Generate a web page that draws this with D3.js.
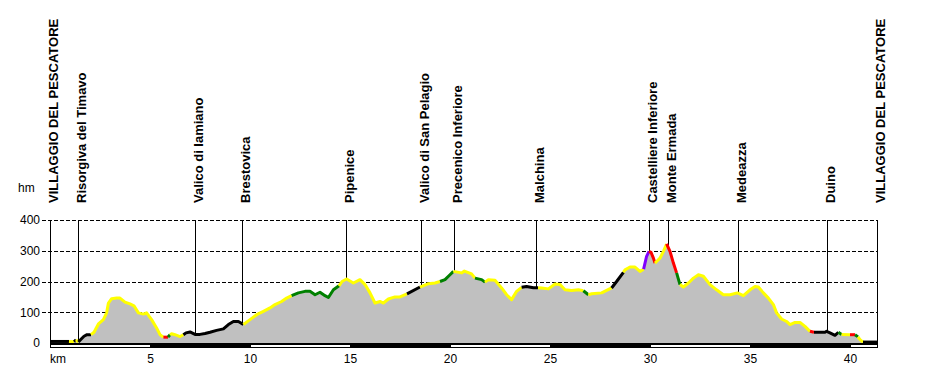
<!DOCTYPE html>
<html>
<head>
<meta charset="utf-8">
<script src="https://cdn.jsdelivr.net/npm/d3@7"></script>
<style>
  body { margin: 0; background: #fff; }
  text { font-family: Arial, "Liberation Sans", sans-serif; }
</style>
</head>
<body>
<script>
// profilo altimetrico: km, quota (m), classe di pendenza del tratto che parte dal punto
var km = [0, 0.95, 1.2, 1.3, 1.42, 1.55, 1.7, 1.85, 2.05, 2.2, 2.42, 2.67, 2.83, 2.92, 3.08, 3.33, 3.5, 3.75, 4.0, 4.2,
  4.42, 4.67, 4.83, 5.08, 5.33, 5.5, 5.67, 5.9, 6.0, 6.08, 6.25, 6.5, 6.67, 6.8, 7.0, 7.25, 7.5, 7.75, 8.0, 8.33,
  8.67, 8.92, 9.17, 9.42, 9.67, 10.0, 10.33, 10.67, 11.0, 11.25, 11.58, 11.83, 12.08, 12.42, 12.75, 13.0, 13.25, 13.5, 13.75, 13.92,
  14.17, 14.45, 14.6, 14.83, 15.17, 15.5, 15.75, 16.0, 16.25, 16.5, 16.67, 16.92, 17.25, 17.5, 17.85, 18.5, 18.92, 19.25, 19.5, 19.75,
  20.0, 20.17, 20.58, 20.72, 21.08, 21.25, 21.58, 21.75, 21.92, 22.25, 22.58, 22.83, 23.08, 23.33, 23.58, 23.83, 24.17, 24.4, 24.58, 24.92,
  25.25, 25.5, 25.75, 26.08, 26.42, 26.67, 26.92, 27.08, 27.58, 27.83, 28.08, 28.33, 28.67, 28.75, 29.0, 29.25, 29.5, 29.68, 29.83, 29.95,
  30.05, 30.17, 30.25, 30.33, 30.5, 30.67, 30.83, 31.0, 31.17, 31.33, 31.5, 31.67, 31.92, 32.17, 32.42, 32.67, 33.0, 33.33, 33.67, 34.0,
  34.37, 34.67, 35.0, 35.25, 35.42, 35.67, 35.92, 36.17, 36.33, 36.58, 36.83, 37.0, 37.25, 37.5, 37.75, 38.0, 38.2, 38.75, 38.83, 39.0,
  39.25, 39.42, 39.58, 40.0, 40.25, 40.4, 40.5, 40.65, 41.35];

var elev = [5, 5, 4, 10, 3, 12, 22, 27, 27, 35, 62, 76, 98, 130, 144, 146, 146, 133, 127, 121,
  98, 94, 98, 76, 49, 27, 19, 19, 27, 30, 27, 21, 27, 33, 36, 28, 28, 31, 35, 41,
  46, 60, 70, 70, 60, 76, 92, 103, 114, 125, 135, 146, 154, 163, 168, 168, 157, 165, 154, 148,
  173, 186, 200, 208, 195, 206, 190, 163, 130, 135, 130, 143, 150, 150, 160, 182, 193, 195, 200, 206,
  222, 233, 228, 234, 225, 211, 206, 198, 206, 204, 179, 157, 141, 168, 181, 184, 180, 180, 179, 176,
  192, 190, 173, 171, 173, 170, 157, 160, 163, 171, 179, 200, 230, 238, 247, 247, 233, 240, 282, 298,
  295, 276, 260, 265, 276, 298, 322, 298, 260, 228, 190, 182, 195, 211, 222, 217, 190, 173, 157, 157,
  163, 154, 173, 184, 182, 163, 146, 125, 98, 78, 70, 60, 67, 67, 54, 38, 35, 35, 38, 33,
  25, 35, 28, 27, 27, 20, 11, 3, 3];

var slope = ["k", "y", "k", "y", "k", "k", "k", "k", "y", "y", "y", "y", "y", "y", "y", "y", "y", "y", "y", "y",
  "y", "y", "y", "y", "y", "y", "r", "g", "y", "y", "y", "y", "k", "k", "k", "k", "k", "k", "k", "k",
  "k", "k", "k", "k", "y", "y", "y", "y", "y", "y", "y", "y", "g", "g", "g", "g", "g", "g", "g", "g",
  "g", "y", "y", "y", "y", "y", "y", "y", "y", "y", "y", "y", "y", "y", "k", "y", "y", "y", "g", "g",
  "g", "y", "y", "y", "y", "g", "g", "y", "y", "y", "y", "y", "y", "y", "k", "k", "k", "y", "y", "y",
  "y", "y", "y", "y", "y", "g", "y", "y", "y", "y", "k", "k", "y", "y", "y", "y", "y", "p", "p", "r",
  "r", "r", "y", "y", "y", "y", "r", "r", "r", "g", "y", "y", "y", "y", "y", "y", "y", "y", "y", "y",
  "y", "y", "y", "y", "y", "y", "y", "y", "y", "y", "y", "y", "y", "y", "y", "r", "k", "k", "k", "k",
  "k", "g", "y", "r", "g", "y", "y", "k"];

var slopeColor = {y: "#ffff00", k: "#000000", g: "#008000", r: "#ff0000", p: "#8000ff"};

// località
var placeNames = ["VILLAGGIO DEL PESCATORE", "Risorgiva del Timavo", "Valico di Iamiano", "Brestovica", "Pipenice",
  "Valico di San Pelagio", "Precenico Inferiore", "Malchina", "Castelliere Inferiore", "Monte Ermada",
  "Medeazza", "Duino", "VILLAGGIO DEL PESCATORE"];
var placeKm = [0, 1.4, 7.25, 9.6, 14.8, 18.57, 20.2, 24.28, 29.93, 30.88, 34.4, 38.83, 41.35];

var yTicks = [0, 100, 200, 300, 400];
var xTicks = [5, 10, 15, 20, 25, 30, 35, 40];
var barSteps = [0, 5, 10, 15, 20, 25, 30, 35, 40];

var width = 927, height = 370;

var svg = d3.select("body")
            .append("svg")
            .attr("width", width)
            .attr("height", height);

var xScale = d3.scaleLinear()
              .domain([0, 41.35])
              .range([50, 877]);

var yScale = d3.scaleLinear()
              .domain([0, 400])
              .range([343, 220]);

// griglia tratteggiata
svg.append("g")
    .selectAll("line")
    .data(yTicks.slice(1))
    .enter()
    .append("line")
    .attr("x1", 42)
    .attr("x2", xScale(41.35))
    .attr("y1", function(d){ return Math.round(yScale(d)) + 0.5; })
    .attr("y2", function(d){ return Math.round(yScale(d)) + 0.5; })
    .attr("stroke", "#000")
    .attr("stroke-dasharray", "4,2");

// area grigia
var area = d3.area()
            .x(function(d, i){ return xScale(km[i]); })
            .y0(yScale(0))
            .y1(function(d){ return yScale(d); });

svg.append("path")
    .datum(elev)
    .attr("d", area)
    .attr("fill", "#c0c0c0");

// linee verticali delle località, fino al profilo
function elevAt(k){
  var i = d3.bisectRight(km, k) - 1;
  if (i >= km.length - 1) return elev[km.length - 1];
  var t = (k - km[i]) / (km[i + 1] - km[i]);
  return elev[i] + t * (elev[i + 1] - elev[i]);
}

svg.append("g")
    .selectAll("line")
    .data(placeKm)
    .enter()
    .append("line")
    .attr("x1", function(d){ return Math.round(xScale(d)) + 0.5; })
    .attr("x2", function(d){ return Math.round(xScale(d)) + 0.5; })
    .attr("y1", yScale(400))
    .attr("y2", function(d, i){ return i == placeKm.length - 1 ? yScale(0) : yScale(elevAt(d)); })
    .attr("stroke", "#000")
    .attr("stroke-width", 1);

// profilo colorato per pendenza: tratti consecutivi dello stesso colore
var runs = [];
var start = 0;
for (var i = 1; i < km.length; i++) {
  if (i == km.length - 1 || slope[i] != slope[start]) {
    var pts = [];
    for (var j = start; j <= i; j++) pts.push(j);
    runs.push({c: slope[start], idx: pts});
    start = i;
  }
}

var line = d3.line()
            .x(function(j){ return xScale(km[j]); })
            .y(function(j){ return yScale(elev[j]); });

svg.append("g")
    .selectAll("path")
    .data(runs)
    .enter()
    .append("path")
    .attr("d", function(d){ return line(d.idx); })
    .attr("fill", "none")
    .attr("stroke", function(d){ return slopeColor[d.c]; })
    .attr("stroke-width", 3)
    .attr("stroke-linejoin", "round");

// assi
svg.append("line")
    .attr("x1", 50.5).attr("x2", 50.5)
    .attr("y1", yScale(400)).attr("y2", yScale(0))
    .attr("stroke", "#000");

svg.append("line")
    .attr("x1", 50).attr("x2", 878)
    .attr("y1", 343.5).attr("y2", 343.5)
    .attr("stroke", "#000");

// barra chilometrica a blocchi di 5 km
svg.append("g")
    .selectAll("rect")
    .data(barSteps)
    .enter()
    .append("rect")
    .attr("x", function(d){ return xScale(d) + 0.5; })
    .attr("y", 344.5)
    .attr("width", function(d){ return xScale(Math.min(d + 5, 41.35)) - xScale(d); })
    .attr("height", 3)
    .attr("fill", function(d, i){ return i % 2 ? "#000" : "#fff"; })
    .attr("stroke", "#000");

var yAxis = d3.axisLeft(yScale)
              .tickValues(yTicks)
              .tickSize(0)
              .tickPadding(10);

svg.append("g")
    .attr("transform", "translate(50,0)")
    .call(yAxis)
    .call(function(g){ g.select(".domain").remove(); })
    .selectAll("text")
      .style("font-size", "12px")
      .attr("fill", "#000");

var xAxis = d3.axisBottom(xScale)
              .tickValues(xTicks)
              .tickSize(0)
              .tickPadding(11);

svg.append("g")
    .attr("transform", "translate(0,343)")
    .call(xAxis)
    .call(function(g){ g.select(".domain").remove(); })
    .selectAll("text")
      .style("font-size", "12px")
      .attr("fill", "#000");

svg.append("text")
    .attr("x", 50)
    .attr("y", 363)
    .style("font-size", "12px")
    .text("km");

svg.append("text")
    .attr("x", 18)
    .attr("y", 192)
    .style("font-size", "12px")
    .text("hm");

// nomi delle località, ruotati
svg.append("g")
    .selectAll("text")
    .data(placeNames)
    .enter()
    .append("text")
    .attr("transform", function(d, i){
      return "translate(" + (xScale(placeKm[i]) + 8) + ",203) rotate(-90)";
    })
    .style("font-size", "13px")
    .style("font-weight", "bold")
    .text(function(d){ return d; });
</script>
</body>
</html>
